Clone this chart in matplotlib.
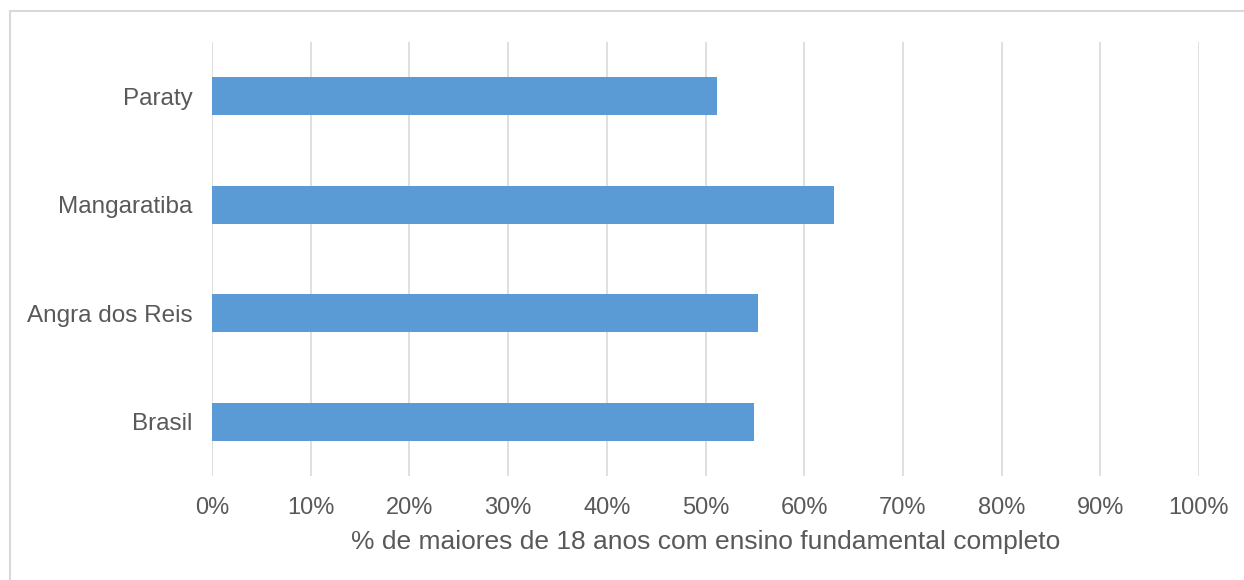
import matplotlib.pyplot as plt
from matplotlib.patches import Rectangle
from matplotlib.ticker import PercentFormatter

plt.rcParams['font.family'] = ['Liberation Sans', 'DejaVu Sans']

categorias = ['Brasil', 'Angra dos Reis', 'Mangaratiba', 'Paraty']
valores = [54.9, 55.3, 63.0, 51.2]
xticks = [0, 10, 20, 30, 40, 50, 60, 70, 80, 90, 100]

cor_barra = '#5B9BD5'
cor_texto = '#595959'
cor_grade = '#D9D9D9'

fig = plt.figure(figsize=(12.44, 5.8), dpi=100)
ax = fig.add_axes([212 / 1244, 1 - 476 / 580, 987 / 1244, 434 / 580])

# moldura externa do gráfico
fig.patches.append(Rectangle((10 / 1244, -0.1), 1.2, 1 - 11 / 580 + 0.1,
                             transform=fig.transFigure, fill=False,
                             edgecolor=cor_grade, linewidth=1.5))

ax.barh(categorias, valores, height=0.35, color=cor_barra, zorder=3)

ax.set_xlim(0, 100)
ax.set_ylim(-0.5, 3.5)
ax.set_xticks(xticks)
ax.xaxis.set_major_formatter(PercentFormatter(decimals=0))
ax.grid(axis='x', color=cor_grade, linewidth=1.2, zorder=0)

for s in ax.spines.values():
    s.set_visible(False)
ax.tick_params(axis='both', length=0, colors=cor_texto)
ax.tick_params(axis='x', pad=15, labelsize=17)
ax.tick_params(axis='y', pad=14, labelsize=17.5)

ax.set_xlabel('% de maiores de 18 anos com ensino fundamental completo',
              color=cor_texto, fontsize=19, labelpad=8)

fig.savefig('out.png', dpi=100)
